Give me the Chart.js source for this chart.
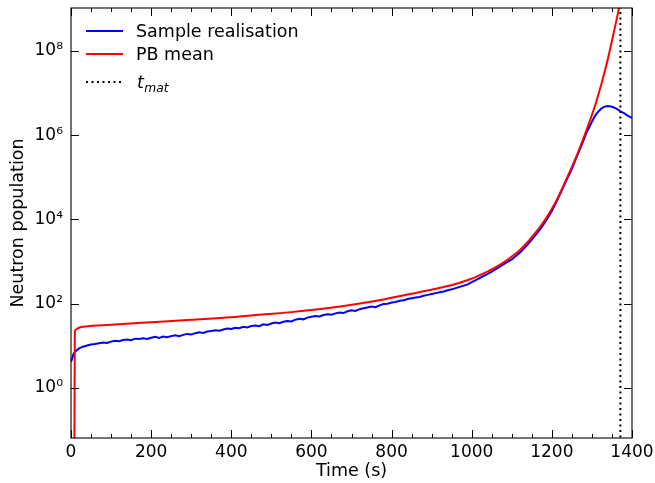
<!DOCTYPE html>
<html><head><meta charset="utf-8">
<script src="https://cdn.jsdelivr.net/npm/chart.js@4"></script>
<style>html,body{margin:0;padding:0;background:#fff;}</style>
</head><body>
<canvas id="c" width="655" height="483"></canvas>
<script>
const sampleTime = [0,3,6,10,15,20,30,40,50,60,70,80,90,100,110,120,130,140,150,160,170,180,190,200,210,220,230,240,250,260,270,280,290,300,310,320,330,340,350,360,370,380,390,400,410,420,430,440,450,460,470,480,490,500,510,520,530,540,550,560,570,580,590,600,610,620,630,640,650,660,670,680,690,700,710,720,730,740,750,760,770,780,790,800,810,820,830,840,850,860,870,880,890,900,910,920,930,940,950,960,970,980,990,1000,1010,1020,1030,1040,1050,1060,1070,1080,1090,1100,1110,1120,1130,1140,1150,1160,1170,1180,1190,1200,1211,1224,1236,1249,1261,1274,1286,1296,1305,1313,1322,1330,1339,1348,1356,1364,1372,1380,1390,1400];
const sampleN = [4.17,5.01,6.31,7.24,7.94,8.71,9.55,10.2,10.7,11.0,11.5,12.0,11.7,12.6,13.2,12.9,13.8,14.1,13.6,14.8,14.5,15.1,14.6,15.5,16.3,15.4,16.6,16.1,17.0,17.9,16.9,18.2,19.2,18.5,20.0,21.0,20.3,21.9,22.5,23.4,22.7,24.5,25.8,25.0,26.9,26.1,28.3,27.4,29.5,30.4,29.3,32.4,31.4,33.9,35.6,34.5,37.2,39.0,37.8,41.7,43.9,42.5,46.8,49.2,51.3,49.8,53.7,56.4,54.8,58.9,61.9,60.0,66.1,69.4,67.3,74.1,77.8,81.3,85.3,82.8,91.2,97.9,100,107,110,117,120,129,135,141,145,155,162,170,178,186,195,209,219,234,251,269,288,324,363,407,457,513,575,661,759,871,1000,1122,1349,1622,2042,2570,3311,4365,5754,7762,10960,15850,25700,46800,83200,151000,288000,575000,1120000,1740000,2570000,3390000,4170000,4680000,4900000,4790000,4470000,4070000,3630000,3310000,2880000,2570000];
const meanTime = [8,9.5,12,20,35,100,200,300,400,484,550,600,697,780,863,946,996,1030,1059,1090,1121,1151,1183,1211,1236,1261,1286,1311,1336,1353,1366,1375];
const meanN = [0.001,21.4,24.5,26.9,28.8,31.6,36.3,41.7,47.9,56.2,63.1,70.8,93.3,126,182,269,380,525,724,1122,1905,3890,9772,27540,89100,309000,1290000,6310000,45700000,234000000,891000000,2500000000];
const tMat = 1371;
const xTickValues = [0,200,400,600,800,1000,1200,1400];
const xMinorStep = 50;
const yTickValues = [1,1e2,1e4,1e6,1e8];
const yTickLabels = ['10\u2070','10\u00B2','10\u2074','10\u2076','10\u2078'];
const seriesLabels = ['Sample realisation','PB mean','t_mat'];

const FONT = 'DejaVu Sans';
const TICK_SIZE = 17;
const TEXT_SIZE = 17.5;
const toXY = (xs, ys) => xs.map((x, i) => ({x: x, y: ys[i]}));

const frameTicks = {
  id: 'frameTicks',
  afterDatasetsDraw(chart) {
    const {ctx, chartArea: a, scales: {x, y}} = chart;
    ctx.save();
    ctx.strokeStyle = '#000';
    ctx.lineWidth = 1.1;
    ctx.setLineDash([]);
    ctx.strokeRect(a.left, a.top, a.right - a.left, a.bottom - a.top);
    ctx.lineWidth = 1;
    ctx.beginPath();
    for (let v = 0; v <= 1400; v += xMinorStep) {
      const px = Math.round(x.getPixelForValue(v)) + 0.5;
      const len = xTickValues.includes(v) ? 8 : 4;
      ctx.moveTo(px, a.bottom); ctx.lineTo(px, a.bottom - len);
      ctx.moveTo(px, a.top); ctx.lineTo(px, a.top + len);
    }
    yTickValues.forEach(v => {
      const py = Math.round(y.getPixelForValue(v)) + 0.5;
      ctx.moveTo(a.left, py); ctx.lineTo(a.left + 8, py);
      ctx.moveTo(a.right, py); ctx.lineTo(a.right - 8, py);
    });
    ctx.stroke();
    ctx.restore();
  }
};

const customLegend = {
  id: 'customLegend',
  afterDraw(chart) {
    const ctx = chart.ctx;
    const ds = chart.data.datasets;
    const ys = [31, 54, 82];
    ctx.save();
    ds.forEach((d, i) => {
      ctx.strokeStyle = d.borderColor;
      ctx.lineWidth = 2;
      ctx.setLineDash(d.borderDash || []);
      ctx.beginPath();
      ctx.moveTo(86, ys[i]); ctx.lineTo(123, ys[i]);
      ctx.stroke();
      ctx.setLineDash([]);
      ctx.fillStyle = '#000';
      ctx.textBaseline = 'alphabetic';
      ctx.textAlign = 'left';
      const base = ys[i] + 0.365 * TEXT_SIZE;
      if (d.label.indexOf('_') >= 0) {
        const parts = d.label.split('_');
        ctx.font = 'oblique ' + TEXT_SIZE + 'px "' + FONT + '"';
        ctx.fillText(parts[0], 137, base);
        const w = ctx.measureText(parts[0]).width;
        ctx.font = 'oblique ' + (TEXT_SIZE * 0.7) + 'px "' + FONT + '"';
        ctx.fillText(parts[1], 137 + w + 0.5, base + 3.5);
      } else {
        ctx.font = TEXT_SIZE + 'px "' + FONT + '"';
        ctx.fillText(d.label, 136, base);
      }
    });
    ctx.restore();
  }
};

new Chart(document.getElementById('c'), {
  type: 'line',
  data: {
    datasets: [
      {label: seriesLabels[0], data: toXY(sampleTime, sampleN), borderColor: '#0000ff', borderWidth: 2, pointRadius: 0, order: 3, tension: 0},
      {label: seriesLabels[1], data: toXY(meanTime, meanN), borderColor: '#ff0000', borderWidth: 2, pointRadius: 0, order: 2, cubicInterpolationMode: 'monotone'},
      {label: seriesLabels[2], data: [{x: tMat, y: 1e-3}, {x: tMat, y: 1e10}], borderColor: '#000000', borderWidth: 2, borderDash: [2, 3.5], pointRadius: 0, order: 1}
    ]
  },
  options: {
    responsive: false,
    animation: false,
    devicePixelRatio: 1,
    layout: {padding: {top: 8, right: 23, left: 0, bottom: 0}},
    plugins: {legend: {display: false}, tooltip: {enabled: false}},
    scales: {
      x: {
        type: 'linear', min: 0, max: 1400,
        grid: {display: false, drawTicks: false},
        border: {display: false},
        afterBuildTicks: s => { s.ticks = xTickValues.map(v => ({value: v})); },
        afterFit: s => { s.height = 45; s.paddingLeft = 0; s.paddingRight = 0; },
        ticks: {autoSkip: false, maxRotation: 0, padding: 4, color: '#000', font: {family: FONT, size: TICK_SIZE}, callback: v => String(v)},
        title: {display: true, text: 'Time (s)', color: '#000', font: {family: FONT, size: TEXT_SIZE}, padding: {top: 0, bottom: 1.5}}
      },
      y: {
        type: 'logarithmic', min: 0.065, max: 1.04e9,
        grid: {display: false, drawTicks: false},
        border: {display: false},
        afterBuildTicks: s => { s.ticks = yTickValues.map(v => ({value: v})); },
        afterFit: s => { s.width = 71; s.paddingTop = 0; s.paddingBottom = 0; },
        ticks: {autoSkip: false, padding: 8, color: '#000', font: {family: FONT, size: TICK_SIZE}, callback: v => { const i = yTickValues.indexOf(v); return i >= 0 ? yTickLabels[i] : ''; }},
        title: {display: true, text: 'Neutron population', color: '#000', font: {family: FONT, size: TEXT_SIZE}, padding: {top: 7.5, bottom: 0}}
      }
    }
  },
  plugins: [frameTicks, customLegend]
});
</script>
</body></html>
